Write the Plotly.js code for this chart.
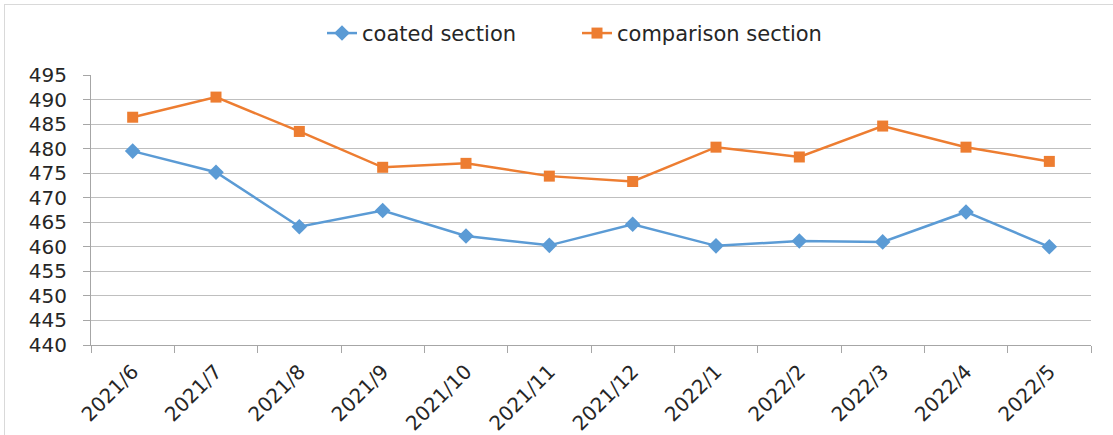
<!DOCTYPE html>
<html>
<head>
<meta charset="utf-8">
<script src="https://cdn.plot.ly/plotly-3.0.1.min.js"></script>
<style>
html,body{margin:0;padding:0;background:#fff;}
#frame{position:absolute;left:4px;top:4px;width:1109px;height:431px;border-top:1px solid #d9d9d9;border-left:1px solid #d9d9d9;}
#chart{position:absolute;left:0;top:0;width:1113px;height:435px;}
</style>
</head>
<body>
<div id="frame"></div>
<div id="chart"></div>
<script>
const months = ["2021/6","2021/7","2021/8","2021/9","2021/10","2021/11","2021/12","2022/1","2022/2","2022/3","2022/4","2022/5"];
const coatedSection = [479.5,475.2,464.1,467.4,462.2,460.3,464.6,460.2,461.2,461.0,467.1,460.0];
const comparisonSection = [486.4,490.5,483.5,476.2,477.0,474.4,473.3,480.3,478.3,484.6,480.3,477.4];
const yTicks = [440,445,450,455,460,465,470,475,480,485,490,495];

const traces = [
  {x: months, y: coatedSection, name: "coated section", type: "scatter", mode: "lines+markers",
   line: {color: "#5B9BD5", width: 2.5}, marker: {symbol: "diamond", size: 12, color: "#5B9BD5"}},
  {x: months, y: comparisonSection, name: "comparison section", type: "scatter", mode: "lines+markers",
   line: {color: "#ED7D31", width: 2.5}, marker: {symbol: "square", size: 11, color: "#ED7D31"}}
];

const layout = {
  width: 1113, height: 435,
  margin: {l: 91, r: 22, t: 75, b: 90},
  paper_bgcolor: "rgba(0,0,0,0)", plot_bgcolor: "#fff",
  showlegend: true,
  legend: {orientation: "h", x: 0.486, xanchor: "center", y: 1.154, yanchor: "middle",
           font: {family: "DejaVu Sans, sans-serif", size: 21, color: "#262626"},
           entrywidth: 210, entrywidthmode: "pixels"},
  xaxis: {type: "category", range: [-0.5, 11.5], tickson: "boundaries", ticks: "outside", ticklen: 7,
          tickcolor: "#a6a6a6", showline: true, linecolor: "#a6a6a6", linewidth: 1, showgrid: false,
          ticklabelstandoff: 6,
          tickangle: -45, tickfont: {family: "DejaVu Sans, sans-serif", size: 20, color: "#262626"}},
  yaxis: {range: [440, 495], tickvals: yTicks, ticktext: yTicks.map(String), ticks: "outside", ticklen: 7,
          tickcolor: "#a6a6a6", showline: true, linecolor: "#a6a6a6", linewidth: 1,
          ticklabelstandoff: 12,
          showgrid: true, gridcolor: "#bfbfbf", gridwidth: 1, zeroline: false,
          tickfont: {family: "DejaVu Sans, sans-serif", size: 20, color: "#262626"}}
};

Plotly.newPlot("chart", traces, layout, {displayModeBar: false, staticPlot: true});
</script>
</body>
</html>
